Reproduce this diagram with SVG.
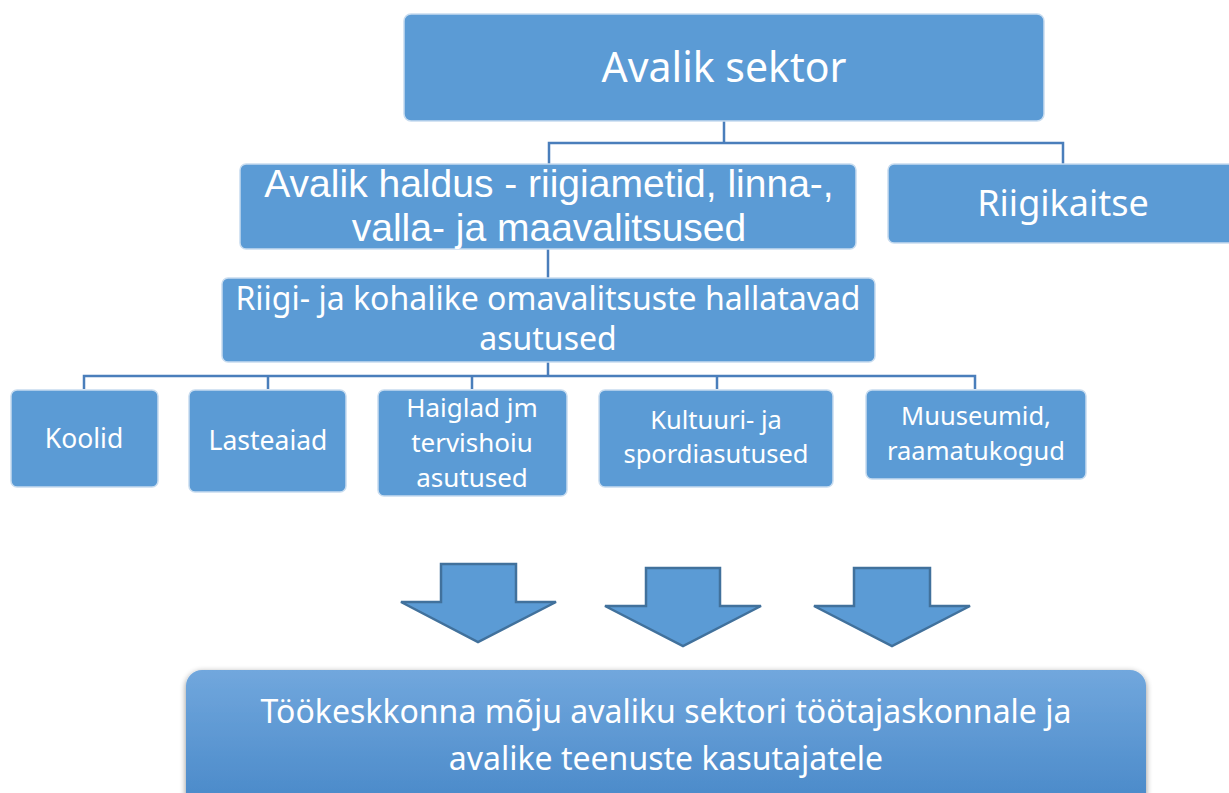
<svg xmlns="http://www.w3.org/2000/svg" width="1229" height="793" viewBox="0 0 1229 793">
<defs>
<style>
.box{fill:#5b9bd5;stroke:#c8dcef;stroke-width:1.5}
.t{font-family:"Noto Sans","Open Sans","DejaVu Sans",sans-serif;fill:#ffffff;text-anchor:middle}
.t2{font-family:"Liberation Sans",Arial,sans-serif;fill:#ffffff;text-anchor:middle}
.con{fill:none;stroke:#4a7ebb;stroke-width:2.5}
.arr{fill:#5b9bd5;stroke:#41719c;stroke-width:2.5;stroke-linejoin:miter}
</style>
<linearGradient id="bg" x1="0" y1="0" x2="0" y2="1">
<stop offset="0" stop-color="#71a7dd"/>
<stop offset="1" stop-color="#4888c8"/>
</linearGradient>
<filter id="sh" x="-5%" y="-20%" width="110%" height="150%">
<feGaussianBlur in="SourceAlpha" stdDeviation="3"/>
<feOffset dx="0" dy="2"/>
<feComponentTransfer><feFuncA type="linear" slope="0.45"/></feComponentTransfer>
<feMerge><feMergeNode/><feMergeNode in="SourceGraphic"/></feMerge>
</filter>
</defs>
<rect width="1229" height="793" fill="#ffffff"/>
<g id="connectors">
<path class="con" d="M724,121 V143 M549,165 V143 H1063 V165"/>
<path class="con" d="M548,249 V278"/>
<path class="con" d="M548,362 V376 M84,389 V376 H975 V389 M268,376 V389 M472,376 V389 M717,376 V389"/>
</g>
<g id="avalik-sektor">
<rect class="box" x="404" y="14" width="640" height="107" rx="7"/>
<text class="t" x="724" y="82" font-size="41">Avalik sektor</text>
</g>
<g id="avalik-haldus">
<rect class="box" x="240" y="164" width="616" height="85" rx="6"/>
<text class="t2" x="549" y="197" font-size="39">Avalik haldus - riigiametid, linna-,</text>
<text class="t2" x="549" y="241" font-size="39">valla- ja maavalitsused</text>
</g>
<g id="riigikaitse">
<rect class="box" x="888" y="164" width="350" height="79" rx="6"/>
<text class="t" x="1063" y="216" font-size="36">Riigikaitse</text>
</g>
<g id="asutused">
<rect class="box" x="222" y="278" width="653" height="84" rx="6"/>
<text class="t" x="548" y="310" font-size="32">Riigi- ja kohalike omavalitsuste hallatavad</text>
<text class="t" x="548" y="350" font-size="32">asutused</text>
</g>
<g id="koolid">
<rect class="box" x="11" y="390" width="147" height="97" rx="6"/>
<text class="t" x="84" y="448" font-size="26.5">Koolid</text>
</g>
<g id="lasteaiad">
<rect class="box" x="189" y="390" width="157" height="102" rx="6"/>
<text class="t" x="268" y="450" font-size="26.5">Lasteaiad</text>
</g>
<g id="haiglad">
<rect class="box" x="378" y="390" width="189" height="106" rx="6"/>
<text class="t" x="472" y="417" font-size="26">Haiglad jm</text>
<text class="t" x="472" y="452" font-size="26">tervishoiu</text>
<text class="t" x="472" y="487" font-size="26">asutused</text>
</g>
<g id="kultuur">
<rect class="box" x="599" y="390" width="234" height="97" rx="6"/>
<text class="t" x="716" y="429" font-size="25.5">Kultuuri- ja</text>
<text class="t" x="716" y="463" font-size="25.5">spordiasutused</text>
</g>
<g id="muuseumid">
<rect class="box" x="866" y="390" width="220" height="89" rx="6"/>
<text class="t" x="976" y="425" font-size="25.5">Muuseumid,</text>
<text class="t" x="976" y="460" font-size="25.5">raamatukogud</text>
</g>
<g id="arrows">
<path class="arr" d="M441,564 H516 V602 H556 L478,642 L401,602 H441 Z"/>
<path class="arr" d="M646,568 H720 V606 H761 L683,646 L605,606 H646 Z"/>
<path class="arr" d="M854,568 H930 V606 H970 L892,646 L814,606 H854 Z"/>
</g>
<g id="tookeskkond">
<rect x="186" y="670" width="960" height="140" rx="16" fill="url(#bg)" filter="url(#sh)"/>
<text class="t" x="666" y="723" font-size="32">Töökeskkonna mõju avaliku sektori töötajaskonnale ja</text>
<text class="t" x="666" y="770" font-size="32">avalike teenuste kasutajatele</text>
</g>
</svg>
